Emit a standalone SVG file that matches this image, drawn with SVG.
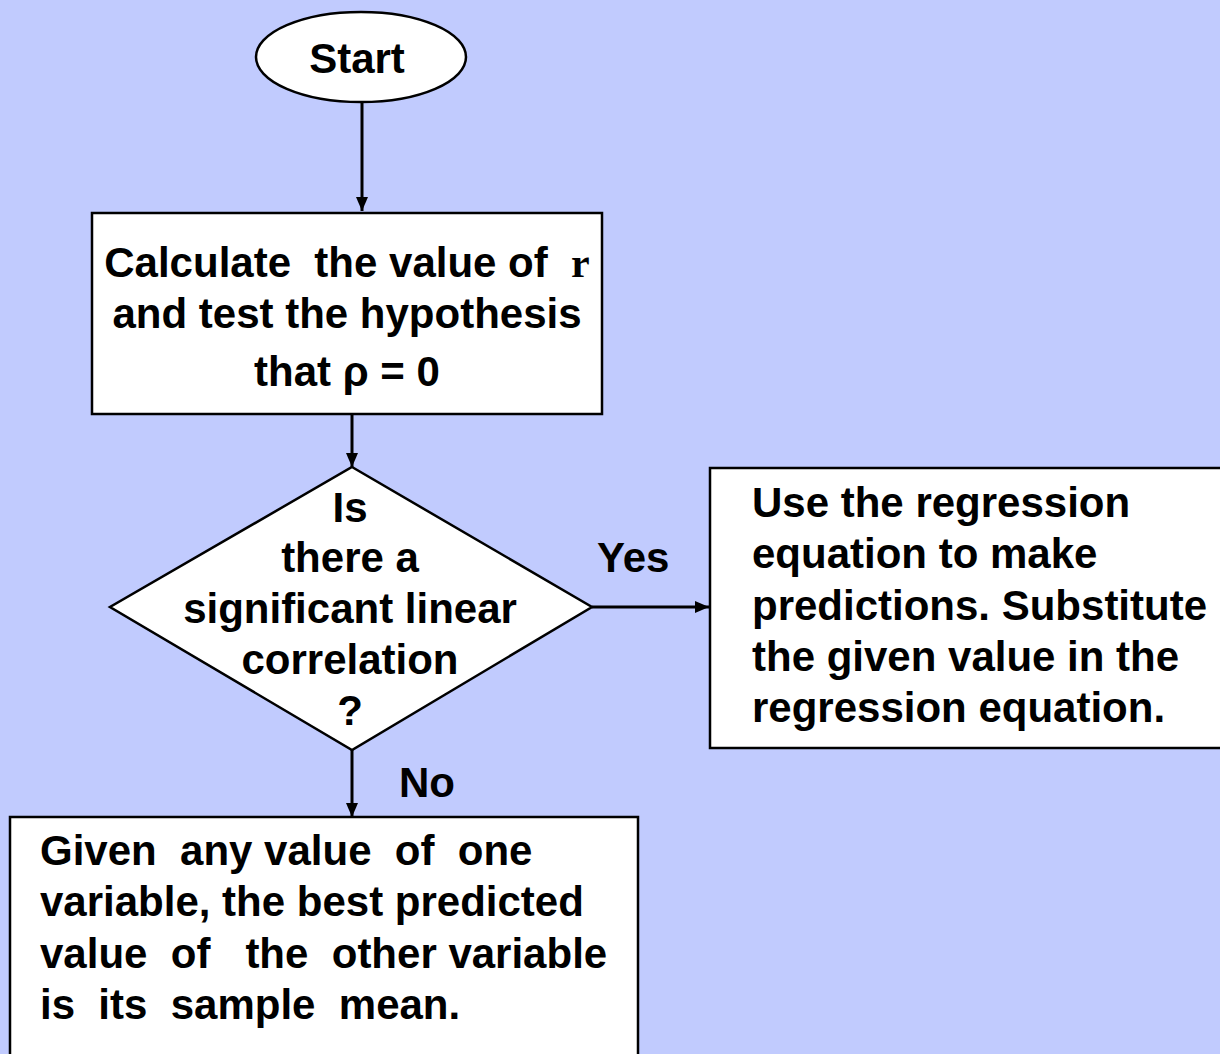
<svg xmlns="http://www.w3.org/2000/svg" width="1220" height="1054" viewBox="0 0 1220 1054">
<defs>
<style>
.shape{fill:#fff;stroke:#000;stroke-width:2.5}
.t{font-family:"Liberation Sans",Arial,sans-serif;font-weight:bold;font-size:42px;fill:#000;white-space:pre}
.c{text-anchor:middle}
.conn{stroke:#000;stroke-width:3;fill:none}
</style>
<marker id="ah" markerUnits="userSpaceOnUse" markerWidth="14" markerHeight="14" viewBox="0 0 14 14" refX="14" refY="7" orient="auto">
<path d="M0,1 L14,7 L0,13 Z" fill="#000"/>
</marker>
</defs>
<rect width="1220" height="1054" fill="#C1CBFE"/>
<g id="connectors">
<line class="conn" x1="362" y1="102" x2="362" y2="211" marker-end="url(#ah)"/>
<line class="conn" x1="352" y1="414" x2="352" y2="467" marker-end="url(#ah)"/>
<line class="conn" x1="592" y1="607" x2="709" y2="607" marker-end="url(#ah)"/>
<line class="conn" x1="352" y1="750" x2="352" y2="817" marker-end="url(#ah)"/>
</g>
<g id="start">
<ellipse class="shape" cx="361" cy="57" rx="105" ry="45"/>
<text class="t c" x="357" y="73">Start</text>
</g>
<g id="calc">
<rect class="shape" x="92" y="213" width="510" height="201"/>
<text class="t c" x="347" y="277">Calculate  the value of  <tspan font-family="'Liberation Serif',serif">r</tspan></text>
<text class="t c" x="347" y="328">and test the hypothesis</text>
<text class="t c" x="347" y="386">that ρ = 0</text>
</g>
<g id="decision">
<polygon class="shape" points="352,467 592,607 352,750 110,607"/>
<text class="t c" x="350" y="522">Is</text>
<text class="t c" x="350" y="572">there a</text>
<text class="t c" x="350" y="623">significant linear</text>
<text class="t c" x="350" y="674">correlation</text>
<text class="t c" x="350" y="725">?</text>
</g>
<g id="yes-label"><text class="t" x="597" y="572">Yes</text></g>
<g id="no-label"><text class="t" x="399" y="797">No</text></g>
<g id="use-regression">
<rect class="shape" x="710" y="468" width="520" height="280"/>
<text class="t" x="752" y="517">Use the regression</text>
<text class="t" x="752" y="568">equation to make</text>
<text class="t" x="752" y="620">predictions. Substitute</text>
<text class="t" x="752" y="671">the given value in the</text>
<text class="t" x="752" y="722">regression equation.</text>
</g>
<g id="sample-mean">
<rect class="shape" x="10" y="817" width="628" height="260"/>
<text class="t" x="40" y="865">Given  any value  of  one</text>
<text class="t" x="40" y="916">variable, the best predicted</text>
<text class="t" x="40" y="968">value  of   the  other variable</text>
<text class="t" x="40" y="1019">is  its  sample  mean.</text>
</g>
</svg>
